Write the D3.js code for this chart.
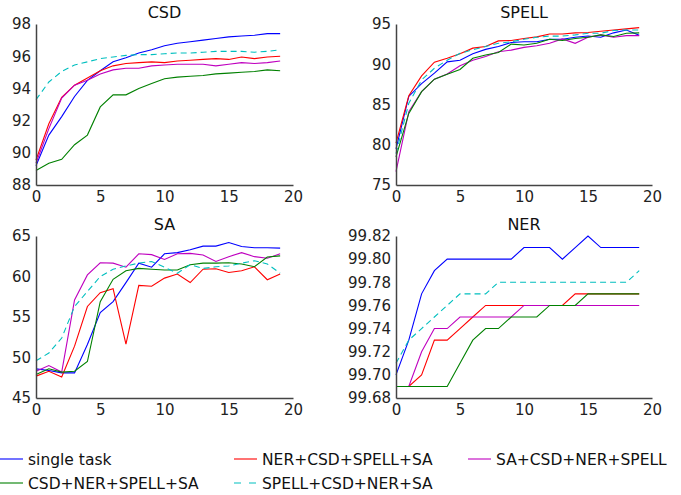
<!DOCTYPE html>
<html><head><meta charset="utf-8">
<script src="https://cdnjs.cloudflare.com/ajax/libs/d3/7.8.5/d3.min.js"></script>
<style>body{margin:0;background:#fff;}svg{display:block;font-family:"DejaVu Sans",sans-serif;}</style>
</head><body><svg id="c" width="681" height="495"></svg>
<script>
const epochs = d3.range(20);
const seriesNames = ["single task","NER+CSD+SPELL+SA","SA+CSD+NER+SPELL","CSD+NER+SPELL+SA","SPELL+CSD+NER+SA"];
const seriesColors = ["#0000ff","#ff0000","#bf00bf","#008000","#00bfbf"];

const csdSingle = [89.2,91.1,92.25,93.5,94.5,95.1,95.65,95.9,96.2,96.4,96.65,96.8,96.9,97.0,97.1,97.2,97.25,97.3,97.4,97.4];
const csdNer    = [89.55,91.8,93.45,94.2,94.65,95.1,95.4,95.55,95.6,95.65,95.6,95.7,95.75,95.8,95.85,95.8,95.95,95.85,95.95,96.0];
const csdSa     = [89.35,91.5,93.4,94.2,94.5,94.9,95.15,95.25,95.25,95.4,95.45,95.5,95.5,95.5,95.4,95.5,95.6,95.55,95.6,95.7];
const csdCsd    = [88.9,89.35,89.6,90.5,91.1,92.85,93.6,93.6,94.0,94.3,94.6,94.7,94.75,94.8,94.9,94.95,95.0,95.05,95.15,95.1];
const csdSpell  = [93.3,94.4,95.05,95.45,95.65,95.85,95.95,96.05,96.1,96.1,96.15,96.2,96.2,96.25,96.3,96.3,96.3,96.25,96.3,96.4];

const spellSingle = [79.5,86.0,87.6,88.9,90.3,90.5,91.3,91.85,92.2,92.7,92.8,92.8,93.1,93.1,93.35,93.5,93.35,93.9,94.25,93.6];
const spellNer    = [80.2,86.1,88.55,90.25,90.75,91.3,92.0,92.2,92.9,92.95,93.2,93.4,93.75,93.75,93.9,93.95,94.1,94.25,94.4,94.55];
const spellSa     = [76.65,84.1,86.6,88.15,88.8,89.8,90.5,90.95,91.55,91.75,92.1,92.3,92.6,93.15,92.6,93.35,93.65,93.35,93.55,93.55];
const spellCsd    = [78.5,83.9,86.6,88.15,88.75,89.35,90.75,91.15,91.45,92.5,92.4,92.6,93.1,92.95,93.2,93.35,93.65,93.45,93.85,93.9];
const spellSpell  = [78.9,85.15,88.05,89.5,90.5,91.35,91.8,92.2,92.6,92.8,93.1,93.35,93.5,93.5,93.65,93.85,93.85,94.2,94.25,94.25];

const saSingle = [48.6,48.4,48.1,48.1,51.6,55.55,56.9,59.25,61.65,61.15,62.8,62.95,63.3,63.75,63.75,64.2,63.7,63.55,63.55,63.5];
const saNer    = [47.7,48.3,47.6,51.4,56.3,58.0,58.5,51.65,58.9,58.8,59.8,60.3,59.25,60.9,60.95,60.5,60.7,61.2,59.6,60.3];
const saSa     = [48.3,49.0,48.2,57.1,60.2,61.7,61.65,61.15,62.8,62.7,62.1,62.8,62.85,62.65,61.85,62.45,62.95,62.45,62.25,62.8];
const saCsd    = [47.9,48.6,48.2,48.3,49.5,56.9,59.65,60.7,61.0,60.9,60.8,60.8,61.45,61.65,61.65,61.7,61.55,61.2,62.4,62.55];
const saSpell  = [49.6,50.55,52.4,56.3,58.15,60.0,60.9,61.3,61.65,61.85,61.15,60.4,61.45,61.0,61.2,61.3,61.65,61.95,61.55,60.4];

const nerSingle = [99.70,99.73,99.77,99.79,99.80,99.80,99.80,99.80,99.80,99.80,99.81,99.81,99.81,99.80,99.81,99.82,99.81,99.81,99.81,99.81];
const nerNer    = [99.69,99.69,99.70,99.73,99.73,99.74,99.75,99.76,99.76,99.76,99.76,99.76,99.76,99.76,99.77,99.77,99.77,99.77,99.77,99.77];
const nerSa     = [99.69,99.69,99.72,99.74,99.74,99.75,99.75,99.75,99.75,99.75,99.76,99.76,99.76,99.76,99.76,99.76,99.76,99.76,99.76,99.76];
const nerCsd    = [99.69,99.69,99.69,99.69,99.69,99.71,99.73,99.74,99.74,99.75,99.75,99.75,99.76,99.76,99.76,99.77,99.77,99.77,99.77,99.77];
const nerSpell  = [99.71,99.73,99.74,99.75,99.76,99.77,99.77,99.77,99.78,99.78,99.78,99.78,99.78,99.78,99.78,99.78,99.78,99.78,99.78,99.79];

const xTicks = [0,5,10,15,20];
const csdTicks = [88,90,92,94,96,98];
const spellTicks = [75,80,85,90,95];
const saTicks = [45,50,55,60,65];
const nerTicks = [99.68,99.70,99.72,99.74,99.76,99.78,99.80,99.82];

const panels = [
  {title:"CSD", data:[csdSingle,csdNer,csdSa,csdCsd,csdSpell], domain:[88,98], ticks:csdTicks, fmt:d3.format("d"), x0:36, x1:293, y0:24, y1:185},
  {title:"SPELL", data:[spellSingle,spellNer,spellSa,spellCsd,spellSpell], domain:[75,95], ticks:spellTicks, fmt:d3.format("d"), x0:396, x1:652, y0:24, y1:185},
  {title:"SA", data:[saSingle,saNer,saSa,saCsd,saSpell], domain:[45,65], ticks:saTicks, fmt:d3.format("d"), x0:36, x1:293, y0:236, y1:398},
  {title:"NER", data:[nerSingle,nerNer,nerSa,nerCsd,nerSpell], domain:[99.68,99.82], ticks:nerTicks, fmt:d3.format(".2f"), x0:396, x1:652, y0:236, y1:398}
];

const svg = d3.select("#c");
panels.forEach(p => {
  const x = d3.scaleLinear().domain([0,20]).range([p.x0,p.x1]);
  const y = d3.scaleLinear().domain(p.domain).range([p.y1,p.y0]);
  const g = svg.append("g");
  const line = d3.line().x((d,i)=>x(epochs[i])).y(d=>y(d));
  p.data.forEach((s,k) => {
    g.append("path").attr("d", line(s)).attr("fill","none")
      .attr("stroke", seriesColors[k]).attr("stroke-width",1.1)
      .attr("stroke-dasharray", k===4 ? "6,4" : null);
  });
  const ya = g.append("g").attr("transform",`translate(${p.x0},0)`)
    .call(d3.axisLeft(y).tickValues(p.ticks).tickFormat(p.fmt).tickSize(0).tickPadding(5));
  const xa = g.append("g").attr("transform",`translate(0,${p.y1})`)
    .call(d3.axisBottom(x).tickValues(xTicks).tickFormat(d3.format("d")).tickSize(0).tickPadding(6));
  [ya,xa].forEach(a => {
    a.select(".domain").attr("stroke","#444").attr("stroke-width",1.5);
    a.selectAll("text").attr("fill","#222").style("font-size","15px").style("font-family","DejaVu Sans");
  });
  g.append("text").attr("x",(p.x0+p.x1)/2).attr("y",p.y0-6).attr("text-anchor","middle")
    .style("font-size","16px").attr("fill","#111").text(p.title);
});

const legendPos = [[0,459],[234,459],[468,459],[0,483],[234,483]];
const lg = svg.append("g");
seriesNames.forEach((n,k) => {
  const [lx,ly] = legendPos[k];
  lg.append("line").attr("x1",lx).attr("x2",lx+23).attr("y1",ly).attr("y2",ly)
    .attr("stroke",seriesColors[k]).attr("stroke-width",1.1).attr("stroke-dasharray", k===4?"7,8":null);
  lg.append("text").attr("x",lx+28).attr("y",ly+5.5).style("font-size","15.5px").attr("fill","#111").text(n);
});
</script></body></html>
